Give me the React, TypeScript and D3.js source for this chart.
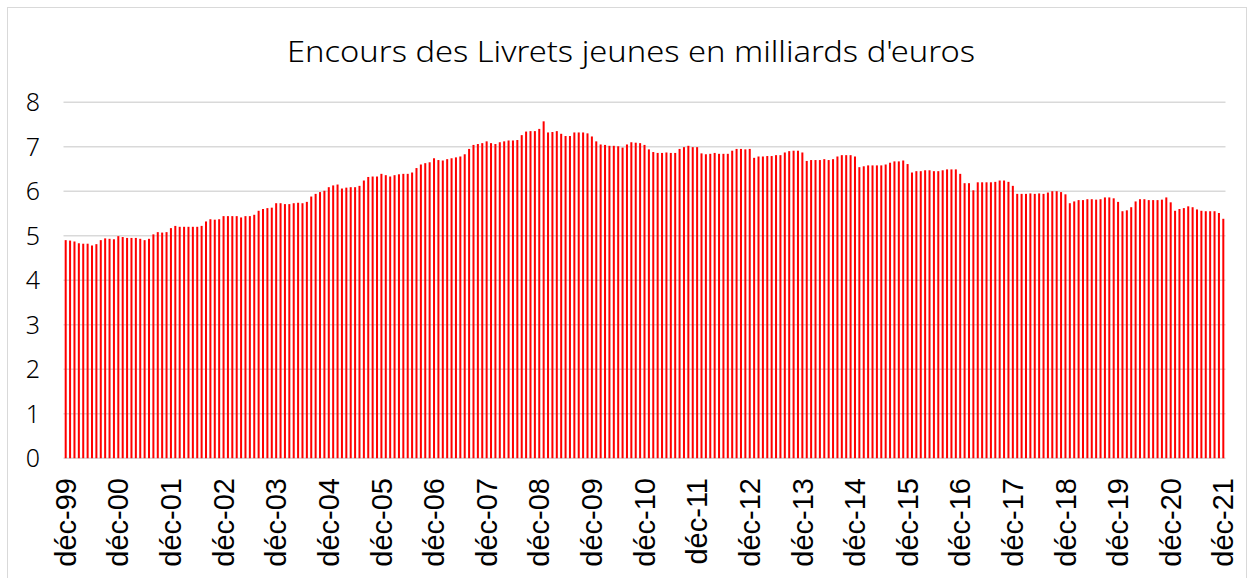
import React, { useEffect, useRef } from "react";
import * as d3 from "d3";

const title = "Encours des Livrets jeunes en milliards d'euros";

// Monthly outstanding amounts (billions of euros), déc-99 .. déc-21
const values: number[] = [
  4.90, 4.89, 4.87, 4.83, 4.82, 4.82, 4.78, 4.81, 4.90, 4.94, 4.93, 4.92,
  4.99, 4.97, 4.95, 4.95, 4.95, 4.93, 4.90, 4.93, 5.03, 5.08, 5.07, 5.08,
  5.17, 5.22, 5.20, 5.20, 5.20, 5.20, 5.20, 5.22, 5.32, 5.37, 5.36, 5.37,
  5.44, 5.44, 5.44, 5.44, 5.41, 5.44, 5.44, 5.47, 5.56, 5.60, 5.62, 5.63,
  5.73, 5.73, 5.71, 5.71, 5.73, 5.74, 5.73, 5.76, 5.88, 5.94, 5.98, 6.01,
  6.09, 6.13, 6.15, 6.06, 6.08, 6.09, 6.09, 6.12, 6.24, 6.32, 6.33, 6.33,
  6.39, 6.36, 6.33, 6.36, 6.38, 6.39, 6.39, 6.42, 6.52, 6.60, 6.63, 6.65,
  6.74, 6.70, 6.69, 6.72, 6.74, 6.76, 6.78, 6.83, 6.95, 7.04, 7.06, 7.08,
  7.12, 7.08, 7.06, 7.10, 7.12, 7.14, 7.14, 7.15, 7.26, 7.34, 7.35, 7.35,
  7.40, 7.57, 7.32, 7.33, 7.35, 7.29, 7.24, 7.24, 7.32, 7.32, 7.32, 7.30,
  7.23, 7.12, 7.05, 7.04, 7.02, 7.02, 7.01, 6.98, 7.05, 7.10, 7.09, 7.08,
  7.04, 6.94, 6.88, 6.86, 6.86, 6.87, 6.86, 6.86, 6.95, 6.99, 7.02, 6.99,
  6.99, 6.85, 6.83, 6.84, 6.86, 6.84, 6.84, 6.84, 6.91, 6.95, 6.95, 6.94,
  6.95, 6.75, 6.78, 6.78, 6.79, 6.79, 6.81, 6.81, 6.87, 6.90, 6.91, 6.91,
  6.87, 6.68, 6.70, 6.70, 6.70, 6.72, 6.70, 6.72, 6.78, 6.81, 6.81, 6.81,
  6.78, 6.54, 6.56, 6.58, 6.58, 6.58, 6.58, 6.60, 6.64, 6.67, 6.67, 6.69,
  6.61, 6.42, 6.45, 6.45, 6.47, 6.47, 6.45, 6.45, 6.47, 6.49, 6.49, 6.49,
  6.39, 6.18, 6.18, 6.02, 6.20, 6.20, 6.20, 6.20, 6.21, 6.24, 6.24, 6.21,
  6.12, 5.94, 5.94, 5.94, 5.95, 5.94, 5.95, 5.94, 5.97, 6.00, 6.00, 5.98,
  5.93, 5.73, 5.77, 5.80, 5.80, 5.82, 5.82, 5.81, 5.82, 5.86, 5.86, 5.84,
  5.76, 5.55, 5.57, 5.64, 5.77, 5.82, 5.82, 5.80, 5.80, 5.80, 5.81, 5.86,
  5.75, 5.56, 5.60, 5.62, 5.66, 5.64, 5.59, 5.56, 5.55, 5.55, 5.55, 5.51,
  5.38,
];

const monthNames = ["janv", "févr", "mars", "avr", "mai", "juin", "juil", "août", "sept", "oct", "nov", "déc"];
// categories: one per month starting déc-99
const categories: string[] = values.map((_, i) => {
  const m = (11 + i) % 12;
  const y = (1999 + Math.floor((11 + i) / 12)) % 100;
  return `${monthNames[m]}-${String(y).padStart(2, "0")}`;
});
const yTicks = [0, 1, 2, 3, 4, 5, 6, 7, 8];

const W = 1253;
const H = 578;
const left = 63.5;
const right = 1225.5;
const top = 102.2;
const bottom = 458.2;

export default function App() {
  const ref = useRef<SVGSVGElement>(null);

  useEffect(() => {
    const svg = d3.select(ref.current);
    svg.selectAll("*").remove();

    const x = d3
      .scaleBand<string>()
      .domain(categories)
      .range([left, right])
      .paddingInner(0.54)
      .paddingOuter(0.27);
    const y = d3.scaleLinear().domain([0, 8]).range([bottom, top]);

    // frame
    svg
      .append("rect")
      .attr("x", 7.5)
      .attr("y", 7.5)
      .attr("width", 1239)
      .attr("height", 620)
      .attr("fill", "#fff")
      .attr("stroke", "#d9d9d9")
      .attr("stroke-width", 1);

    // title
    svg
      .append("text")
      .attr("x", 631)
      .attr("y", 62)
      .attr("text-anchor", "middle")
      .attr("font-family", "'Noto Sans', sans-serif")
      .attr("font-weight", 300)
      .attr("font-size", 29)
      .attr("textLength", 688)
      .attr("lengthAdjust", "spacingAndGlyphs")
      .attr("fill", "#000")
      .text(title);

    // gridlines
    svg
      .append("g")
      .selectAll("line")
      .data(yTicks)
      .join("line")
      .attr("x1", left)
      .attr("x2", right)
      .attr("y1", (d) => y(d))
      .attr("y2", (d) => y(d))
      .attr("stroke", "#d9d9d9")
      .attr("stroke-width", 1.6);

    // y labels
    svg
      .append("g")
      .selectAll("text")
      .data(yTicks)
      .join("text")
      .attr("x", 40)
      .attr("y", (d) => y(d))
      .attr("dy", "0.36em")
      .attr("text-anchor", "end")
      .attr("font-family", "'Noto Sans', sans-serif")
      .attr("font-weight", 300)
      .attr("font-size", 25)
      .attr("fill", "#000")
      .text((d) => String(d));

    // bars
    svg
      .append("g")
      .selectAll("rect")
      .data(values)
      .join("rect")
      .attr("x", (_, i) => x(categories[i])!)
      .attr("width", x.bandwidth())
      .attr("y", (d) => y(d))
      .attr("height", (d) => y(0) - y(d))
      .attr("fill", "#ff0000");

    // x labels (every 12 months)
    const labelIdx = categories.map((_, i) => i).filter((i) => i % 12 === 0);
    svg
      .append("g")
      .selectAll("text")
      .data(labelIdx)
      .join("text")
      .attr("transform", (i) => {
        const cx = x(categories[i])! + x.bandwidth() / 2;
        return `translate(${cx},478) rotate(-90)`;
      })
      .attr("dy", "0.35em")
      .attr("text-anchor", "end")
      .attr("font-family", "'Liberation Sans', Arial, sans-serif")
      .attr("font-size", 29)
      .attr("fill", "#000")
      .text((i) => categories[i]);
  }, []);

  return (
    <svg
      ref={ref}
      width={W}
      height={H}
      style={{ position: "absolute", left: 0, top: 0, background: "#fff" }}
    />
  );
}
